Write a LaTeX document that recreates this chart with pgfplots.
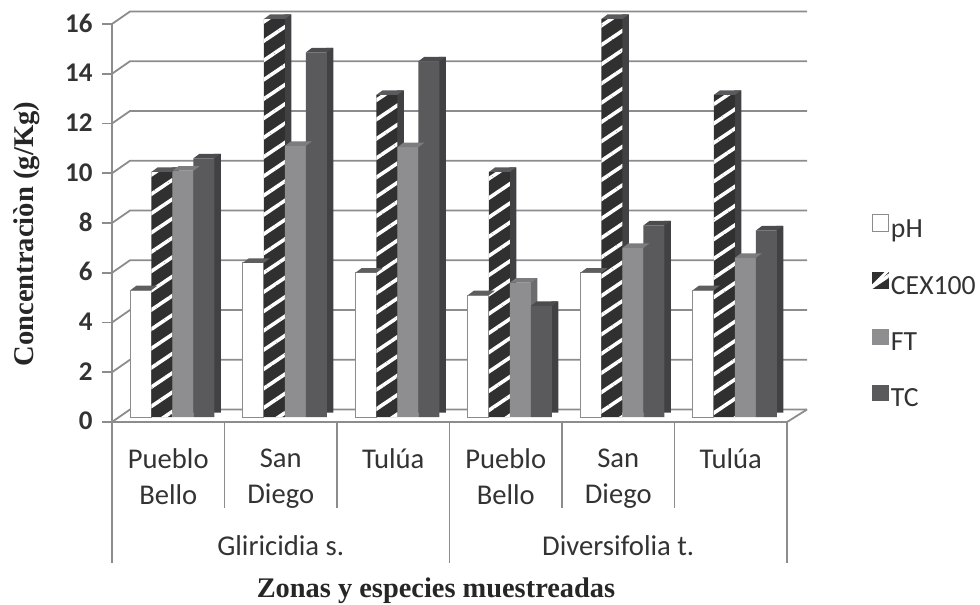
\documentclass[border=0pt]{standalone}
\usepackage{fontspec}
\usepackage{pgfplots}
\usepackage{pgfplotstable}
\pgfplotsset{compat=1.18}
\usetikzlibrary{patterns.meta}
\setmainfont{Carlito}
\newfontfamily\serifb{Liberation Serif}[BoldFont={Liberation Serif Bold}]
\definecolor{gridc}{HTML}{8C8C8E}
\definecolor{txt}{HTML}{333333}
\definecolor{cexf}{HTML}{303030}
\definecolor{cexs}{HTML}{414143}
\definecolor{cext}{HTML}{5A5A5C}
\definecolor{ftf}{HTML}{8E8E90}
\definecolor{fts}{HTML}{6C6C6E}
\definecolor{ftt}{HTML}{7C7C7E}
\definecolor{tcf}{HTML}{5A5A5C}
\definecolor{tcs}{HTML}{414143}
\definecolor{tct}{HTML}{4C4C4E}
\definecolor{pht}{HTML}{5E5E60}
\pgfplotstableread{
x pH CEX FT TC
0 5.1 9.85 9.9 10.4
1 6.2 16.0 10.9 14.66
2 5.8 12.95 10.85 14.3
3 4.9 9.85 5.4 4.47
4 5.8 16.0 6.8 7.7
5 5.1 12.95 6.4 7.5
}\datatable
\pgfdeclareplotmark{barTop}{%
  \pgfpathmoveto{\pgfpoint{-10.5pt}{0pt}}%
  \pgfpathlineto{\pgfpoint{10.5pt}{0pt}}%
  \pgfpathlineto{\pgfpoint{16.5pt}{4.5pt}}%
  \pgfpathlineto{\pgfpoint{-4.5pt}{4.5pt}}%
  \pgfpathclose\pgfusepathqfill}
% #1 column, #2 bar shift (pt), #3 side colour, #4 top colour, #5 front options, #6 legend image
\newcommand{\barseries}[6]{%
  \addplot[forget plot,ybar,bar width=7pt,bar shift=#2pt+13.5pt,fill=#3,draw=none,yshift=9.5pt]
    table[x=x,y=#1]{\datatable};
  \addplot[forget plot,only marks,mark=barTop,mark options={fill=#4,draw=none},color=#4,xshift=#2pt,yshift=5pt]
    table[x=x,y=#1]{\datatable};
  \addplot[ybar,bar width=21pt,bar shift=#2pt,yshift=5pt,#5,legend image code/.code={#6}]
    table[x=x,y=#1]{\datatable};
}
\begin{document}
\begin{tikzpicture}
\path[use as bounding box] (-112pt,-183pt) rectangle (868pt,422pt);
\begin{axis}[
  scale only axis,width=675pt,height=398pt,
  xmin=-0.5,xmax=5.5,ymin=0,ymax=16,
  clip=false,
  axis x line=bottom,axis y line=left,
  axis line style={-,draw=gridc,line width=1.8pt},
  xtick={0,1,2,3,4,5},
  xticklabels={{Pueblo\\Bello},{San\\Diego},{Tulúa},{Pueblo\\Bello},{San\\Diego},{Tulúa}},
  x tick style={draw=none},
  xticklabel style={align=center,anchor=north,yshift=-13pt,font=\fontsize{28.6}{36}\selectfont,text=txt},
  ytick={0,2,...,16},
  y tick style={draw=gridc,line width=1.8pt},
  tick align=outside,major tick length=10pt,
  yticklabel style={font=\fontsize{27}{30}\selectfont\bfseries,text=txt,xshift=-6pt,yshift=1pt},
  /pgf/number format/assume math mode=true,
  xlabel={\serifb\bfseries Zonas y especies muestreadas},
  every axis x label/.style={at={(axis description cs:0.48,-0.425)},anchor=center,font=\fontsize{28.4}{30}\selectfont,text=black!85},
  ylabel={\serifb\bfseries Concentraciòn (g/Kg)},
  every axis y label/.style={at={(axis description cs:-0.127,0.472)},rotate=90,anchor=center,font=\fontsize{28.6}{30}\selectfont,text=black!85},
  legend style={at={(axis cs:6.25,8.36)},anchor=north west,draw=none,fill=none,inner sep=0pt,
    font=\fontsize{27.7}{27}\selectfont,text=txt,row sep=30.3pt,/tikz/every even column/.append style={column sep=13pt}},
  legend cell align=left,
]
% back wall and floor
\pgfplotsinvokeforeach{0,2,...,16}{
  \draw[gridc,line width=1.8pt] (axis cs:-0.5,#1) -- ++(18pt,12.5pt) -- ++(677pt,0pt);
}
\draw[gridc,line width=1.8pt] (axis cs:5.5,0) -- ++(20pt,12.5pt);
% separators under the axis
\pgfplotsinvokeforeach{0.5,1.5,3.5,4.5}{
  \draw[gridc,line width=1.5pt] (axis cs:#1,0) -- ++(0pt,-86pt);
}
\pgfplotsinvokeforeach{-0.5,2.5,5.5}{
  \draw[gridc,line width=1.5pt] (axis cs:#1,0) -- ++(0pt,-141pt);
}
\node[font=\fontsize{28.7}{30}\selectfont,text=txt] at (axis cs:1,0) [yshift=-124pt] {Gliricidia s.};
\node[font=\fontsize{28.7}{30}\selectfont,text=txt] at (axis cs:4,0) [yshift=-124pt] {Diversifolia t.};
% bars
\barseries{pH}{-27.3}{pht}{pht}{fill=white,draw=gridc,line width=1pt}
  {\draw[fill=white,draw=gridc,line width=0.8pt] (0pt,-7pt) rectangle (16pt,10pt);}
\addlegendentry{pH}
\barseries{CEX}{-6.3}{cexs}{cext}{fill=cexf,draw=none,postaction={pattern={Lines[angle=34,distance=16pt,line width=3.6pt]},pattern color=white}}
  {\fill[cexf] (0pt,-7pt) rectangle (17pt,10pt);\fill[white] (0pt,-3pt) -- (13pt,10pt) -- (17pt,10pt) -- (3pt,-4pt)-- cycle;}
\addlegendentry{CEX100}
\barseries{FT}{14.7}{fts}{ftt}{fill=ftf,draw=none}
  {\fill[ftf] (0pt,-7pt) rectangle (17pt,9pt);}
\addlegendentry{FT}
\barseries{TC}{35.7}{tcs}{tct}{fill=tcf,draw=none}
  {\fill[tcf] (0pt,-7pt) rectangle (17pt,9pt);}
\addlegendentry{TC}
\end{axis}
\end{tikzpicture}
\end{document}
